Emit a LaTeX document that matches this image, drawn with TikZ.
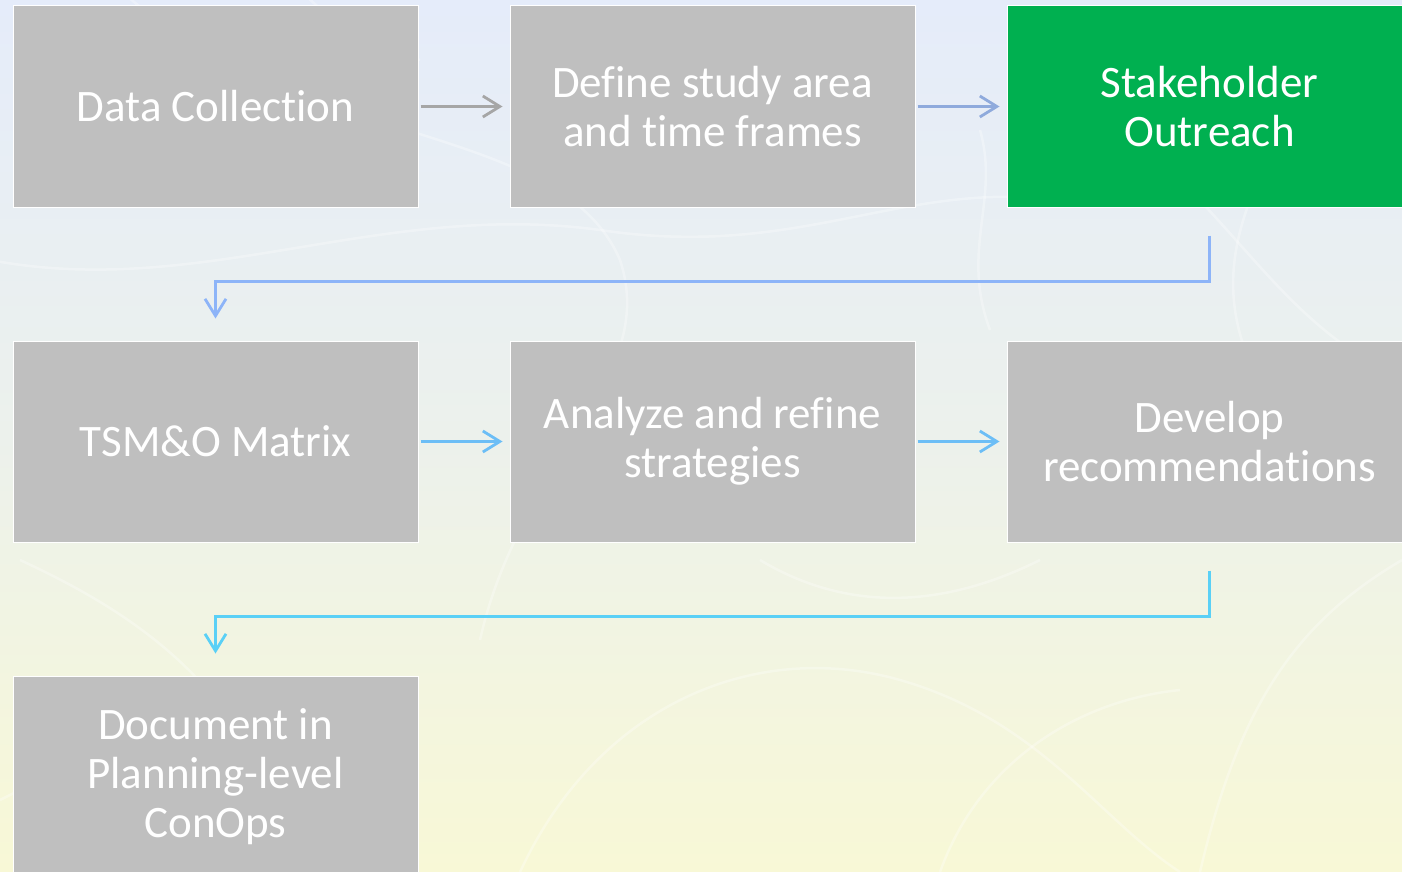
\documentclass[tikz,border=0pt]{standalone}
\usepackage{fontspec}
\setmainfont[Ligatures=NoCommon]{Carlito}
\usetikzlibrary{arrows.meta,calc}

\definecolor{bgtop}{RGB}{229,236,250}
\definecolor{bgmid}{RGB}{236,241,236}
\definecolor{bgbot}{RGB}{248,248,214}
\definecolor{boxgray}{RGB}{191,191,191}
\definecolor{boxgreen}{RGB}{0,176,80}
\definecolor{arrgray}{RGB}{166,166,166}
\definecolor{arrblueA}{RGB}{143,170,220}
\definecolor{arrblueB}{RGB}{141,180,248}
\definecolor{arrblueC}{RGB}{108,190,246}
\definecolor{arrcyan}{RGB}{90,208,246}

\tikzset{
  stepbox/.style={rectangle, draw=white, line width=1pt, fill=boxgray,
    minimum width=405pt, minimum height=201pt, inner sep=0pt,
    text=white, align=center,
    font=\fontsize{45}{49}\selectfont},
  greenbox/.style={stepbox, fill=boxgreen},
  flow/.style={line width=2.8pt, -{Straight Barb[length=17pt,width=21pt,line width=2.8pt]}},
  swirl/.style={white, opacity=0.3, line width=2.5pt},
}

\begin{document}
\begin{tikzpicture}[x=1pt,y=-1pt]
  \useasboundingbox (0,0) rectangle (1402,872);
  \begin{scope}
    \clip (0,0) rectangle (1402,872);
    % background wash
    \shade[top color=bgtop, bottom color=bgbot, middle color=bgmid] (0,0) rectangle (1402,872);
    % faint decorative strokes
    \draw[swirl] (120,-10) .. controls (300,150) and (560,120) .. (620,260)
                 .. controls (660,380) and (520,460) .. (480,640);
    \draw[swirl] (-10,260) .. controls (200,300) and (380,200) .. (600,230)
                 .. controls (800,260) and (900,180) .. (1060,200);
    \draw[swirl] (1180,180) .. controls (1260,260) and (1300,330) .. (1402,380);
    \draw[swirl] (1250,200) .. controls (1220,280) and (1230,340) .. (1280,420);
    \draw[swirl] (20,560) .. controls (150,620) and (260,700) .. (300,880);
    \draw[swirl] (0,800) .. controls (120,740) and (180,700) .. (260,720);
    \draw[swirl] (520,872) .. controls (600,700) and (760,640) .. (900,680)
                 .. controls (1040,720) and (1100,820) .. (1180,872);
    \draw[swirl] (1402,560) .. controls (1300,620) and (1240,700) .. (1200,872);
    \draw[swirl] (760,560) .. controls (860,620) and (960,600) .. (1040,560);
    \draw[swirl] (940,872) .. controls (980,760) and (1080,700) .. (1180,690);
    \draw[swirl] (300,-10) .. controls (330,20) and (360,40) .. (420,60);
    \draw[swirl] (980,130) .. controls (1000,200) and (960,250) .. (990,330);

    % process steps
    \node[stepbox]  (s1) at (215.5,106.5)  {Data Collection};
    \node[stepbox]  (s2) at (712.5,106.5)  {Define study area\\and time frames};
    \node[greenbox] (s3) at (1209.5,106.5) {Stakeholder\\Outreach};
    \node[stepbox]  (s4) at (215.5,441.5)  {TSM\&O Matrix};
    \node[stepbox]  (s5) at (712.5,441.5)  {Analyze and refine\\strategies};
    \node[stepbox]  (s6) at (1209.5,441.5) {Develop\\recommendations};
    \node[stepbox]  (s7) at (215.5,776.5)  {Document in\\Planning-level\\ConOps};

    % connectors
    \draw[flow, arrgray]   ([xshift=2pt]s1.east) -- ([xshift=-7pt]s2.west);
    \draw[flow, arrblueA]  ([xshift=2pt]s2.east) -- ([xshift=-7pt]s3.west);
    \draw[flow, arrblueB]  ([yshift=-28pt]s3.south) -- ++(0,46) -| ([yshift=22pt]s4.north);
    \draw[flow, arrblueC]  ([xshift=2pt]s4.east) -- ([xshift=-7pt]s5.west);
    \draw[flow, arrblueC]  ([xshift=2pt]s5.east) -- ([xshift=-7pt]s6.west);
    \draw[flow, arrcyan]   ([yshift=-28pt]s6.south) -- ++(0,46) -| ([yshift=22pt]s7.north);
  \end{scope}
\end{tikzpicture}
\end{document}
